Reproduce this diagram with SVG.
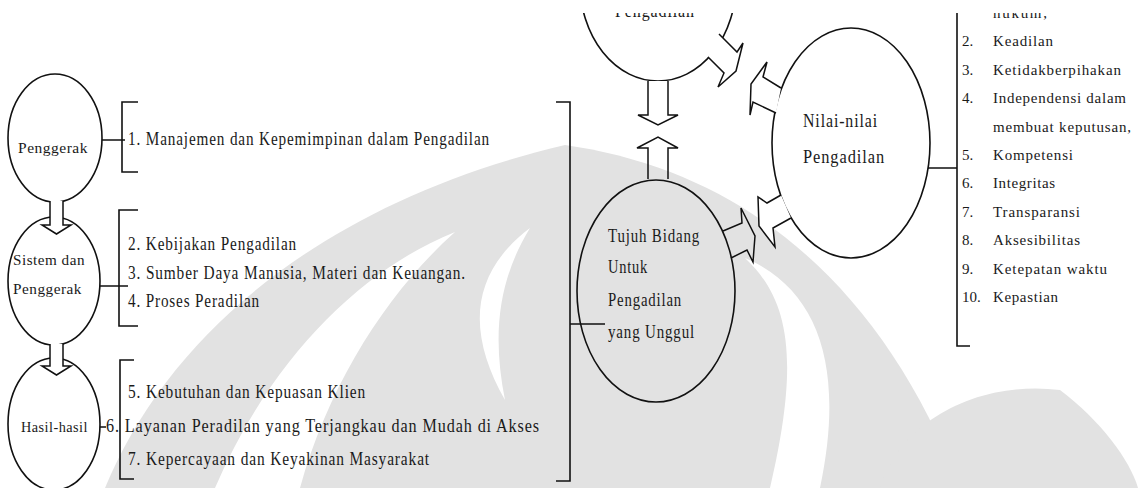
<svg xmlns="http://www.w3.org/2000/svg" width="1138" height="488" viewBox="0 0 1138 488">
<defs>
<clipPath id="page"><rect x="0" y="13" width="1138" height="475"/></clipPath>
<style>
.wm{fill:#e2e2e2}
.wh{fill:#fff}
.sh{fill:#fff;stroke:#111;stroke-width:1.6}
.ln{fill:none;stroke:#111;stroke-width:1.6}
.ar{fill:#fff;stroke:#111;stroke-width:1.5;stroke-linejoin:miter}
.t{font-family:"Liberation Serif","Times New Roman",serif;font-size:18px;letter-spacing:1px;fill:#1a1a1a}
.r{font-family:"Liberation Serif","Times New Roman",serif;font-size:15px;fill:#1a1a1a}
.s{font-family:"Liberation Serif","Times New Roman",serif;font-size:15px;letter-spacing:0.5px;fill:#1a1a1a}
</style>
</defs>
<rect width="1138" height="488" fill="#fff"/>
<g id="watermark">
<path class="wm" d="M105,488 C170,330 330,200 565,145 C740,170 880,280 960,488 Z"/>
<path class="wm" d="M880,488 C900,420 980,380 1060,390 C1100,420 1130,460 1138,488 Z"/>
<path class="wh" d="M215,488 C270,360 360,270 455,232 C390,290 330,380 300,488 Z"/>
<path class="wh" d="M530,228 C468,275 468,335 505,400 C492,335 498,280 530,228 Z"/>
<path class="wh" d="M745,258 C790,300 800,360 770,488 L820,488 C845,370 820,290 745,258 Z"/>
</g>
<g clip-path="url(#page)">
<g id="connectors">
<path class="ln" d="M95,140 H125 M138,102 H122 V172 H138"/>
<path class="ln" d="M93,286 H128 M138,210 H119 V326 H138"/>
<path class="ln" d="M98,427 H106 M134,360 H120 V479 H134"/>
<path class="ln" d="M556,102 H570 V481 H556 M570,324 H605"/>
<path class="ln" d="M926,168 H957 M957,0 V346 H970"/>
</g>
<g id="penggerak">
<ellipse class="sh" cx="55" cy="138" rx="47" ry="64"/>
<text class="s" x="18" y="153" textLength="70" lengthAdjust="spacingAndGlyphs">Penggerak</text>
</g>
<g id="sistem">
<ellipse class="sh" cx="54" cy="281" rx="46" ry="64"/>
<text class="s" x="13" y="265" textLength="72" lengthAdjust="spacingAndGlyphs">Sistem dan</text>
<text class="s" x="13" y="294" textLength="69" lengthAdjust="spacingAndGlyphs">Penggerak</text>
</g>
<g id="hasil">
<ellipse class="sh" cx="54" cy="424" rx="46" ry="66"/>
<text class="s" x="21" y="432" textLength="67" lengthAdjust="spacingAndGlyphs">Hasil-hasil</text>
</g>
<g id="arrows-left">
<path class="ar" d="M50,201 V225 H42 L56.5,234 L71,225 H63 V201"/>
<path class="ar" d="M50,344 V366 H42 L56.5,375 L71,366 H63 V344"/>
</g>
<g id="list-left">
<text class="t" x="128" y="145" textLength="362" lengthAdjust="spacingAndGlyphs">1. Manajemen dan Kepemimpinan dalam Pengadilan</text>
<text class="t" x="128" y="250" textLength="169" lengthAdjust="spacingAndGlyphs">2. Kebijakan Pengadilan</text>
<text class="t" x="128" y="279" textLength="338" lengthAdjust="spacingAndGlyphs">3. Sumber Daya Manusia, Materi dan Keuangan.</text>
<text class="t" x="128" y="307" textLength="132" lengthAdjust="spacingAndGlyphs">4. Proses Peradilan</text>
<text class="t" x="128" y="398" textLength="238" lengthAdjust="spacingAndGlyphs">5. Kebutuhan dan Kepuasan Klien</text>
<text class="t" x="106" y="432" textLength="434" lengthAdjust="spacingAndGlyphs">6. Layanan Peradilan yang Terjangkau dan Mudah di Akses</text>
<text class="t" x="128" y="465" textLength="302" lengthAdjust="spacingAndGlyphs">7. Kepercayaan dan Keyakinan Masyarakat</text>
</g>
<g id="pengadilan-top">
<ellipse class="sh" cx="658" cy="-17" rx="78" ry="98"/>
<text class="t" x="615" y="17" textLength="80" lengthAdjust="spacingAndGlyphs">Pengadilan</text>
</g>
<g id="tujuh">
<ellipse class="sh" cx="656" cy="291" rx="79" ry="111" style="fill:none"/>
<text class="t" x="608" y="242" textLength="92" lengthAdjust="spacingAndGlyphs">Tujuh Bidang</text>
<text class="t" x="608" y="273" textLength="40" lengthAdjust="spacingAndGlyphs">Untuk</text>
<text class="t" x="608" y="306" textLength="74" lengthAdjust="spacingAndGlyphs">Pengadilan</text>
<text class="t" x="608" y="338" textLength="87" lengthAdjust="spacingAndGlyphs">yang Unggul</text>
</g>
<g id="nilai">
<ellipse class="sh" cx="851" cy="143" rx="79" ry="115"/>
<text class="t" x="803" y="127" textLength="75" lengthAdjust="spacingAndGlyphs">Nilai-nilai</text>
<text class="t" x="803" y="163" textLength="82" lengthAdjust="spacingAndGlyphs">Pengadilan</text>
</g>
<g id="arrows-right">
<path class="ar" d="M648,81 V115 H638 L658,125 L678,115 H668 V81"/>
<path class="ar" d="M648,179 V148 H637 L658,137 L678,148 H668 V179" style="fill:none"/>
<path class="ar" d="M719,34 L737,52 L743,43 L736,71 L718,87 L724,73 L708,57"/>
<path class="ar" d="M781,88 L763,77 L767,62 L751,84 L750,115 L753,102 L776,113"/>
<path class="ar" d="M723,231 L742,223 L741,208 L755,236 L753,262 L747,250 L731,258" style="fill:none"/>
<path class="ar" d="M781,195 L767,203 L758,197 L759,226 L775,247 L773,228 L791,218"/>
</g>
<g id="list-right">
<text class="r" x="993" y="18" textLength="54">hukum,</text>
<text class="r" x="962" y="46">2.</text><text class="r" x="993" y="46" textLength="60">Keadilan</text>
<text class="r" x="962" y="75">3.</text><text class="r" x="993" y="75" textLength="128">Ketidakberpihakan</text>
<text class="r" x="962" y="103">4.</text><text class="r" x="993" y="103" textLength="133">Independensi dalam</text>
<text class="r" x="993" y="132" textLength="138">membuat keputusan,</text>
<text class="r" x="962" y="160">5.</text><text class="r" x="993" y="160" textLength="80">Kompetensi</text>
<text class="r" x="962" y="188">6.</text><text class="r" x="993" y="188" textLength="62">Integritas</text>
<text class="r" x="962" y="217">7.</text><text class="r" x="993" y="217" textLength="87">Transparansi</text>
<text class="r" x="962" y="245">8.</text><text class="r" x="993" y="245" textLength="87">Aksesibilitas</text>
<text class="r" x="962" y="274">9.</text><text class="r" x="993" y="274" textLength="114">Ketepatan waktu</text>
<text class="r" x="962" y="302">10.</text><text class="r" x="993" y="302" textLength="65">Kepastian</text>
</g>
</g>
</svg>
